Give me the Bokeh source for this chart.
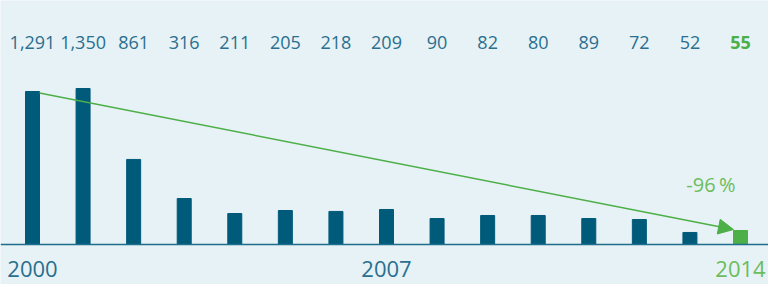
from bokeh.plotting import figure
from bokeh.models import Range1d, ColumnDataSource, Arrow, NormalHead, Span
from bokeh.core.properties import value
from bokeh.embed import file_html
from bokeh.resources import INLINE

# ---- data ----
years = list(range(2000, 2015))
value_labels = ["1,291", "1,350", "861", "316", "211", "205", "218", "209",
                "90", "82", "80", "89", "72", "52", "55"]
# bar heights as drawn in the reference (chart units, max bar = 1,350)
bar_heights = [1324, 1350, 736, 398, 268, 294, 286, 303, 225, 251, 251, 225, 216, 104, 121]
year_labels = ["2000", "2007", "2014"]
change_label = "-96\u2009%"

# ---- styling ----
BG = "#e6f2f5"
BAR = "#005a7a"
GREEN = "#4caf47"
LIGHT_GREEN = "#6cbd5e"
TEXT = "#2a6f8f"
FONT = "Open Sans"

W, H = 768, 284
px_per_slot = 708 / 14          # horizontal pixels per year
x_start = -32 / px_per_slot
x_end = x_start + W / px_per_slot
k = 1350 / 156                  # chart units per pixel
base_px = 40                    # baseline height above bottom edge (px)

p = figure(width=W, height=H, x_range=Range1d(x_start, x_end),
           y_range=Range1d(-base_px * k, (H - base_px) * k),
           output_backend="svg", toolbar_location=None, min_border=0)
p.axis.visible = False
p.grid.visible = False
p.outline_line_color = None
p.background_fill_color = BG
p.border_fill_color = BG

n = len(years)
xs = list(range(n))
colors = [BAR] * (n - 1) + [GREEN]
src = ColumnDataSource(dict(x=xs, top=bar_heights, color=colors,
                            label=value_labels,
                            lcolor=[TEXT] * (n - 1) + [GREEN],
                            lstyle=["normal"] * (n - 1) + ["bold"]))

bar_w = 14 / px_per_slot
p.vbar(x="x", top="top", bottom=0, width=bar_w, color="color", source=src)

# baseline
p.add_layout(Span(location=0, dimension="width", line_color="#1f6e8c", line_width=1.5))

# value labels
p.text(x="x", y=(H - 42 - base_px) * k, text="label", source=src, text_align="center",
       text_baseline="middle", text_font=value(FONT), text_font_size="18px",
       text_color="lcolor", text_font_style="lstyle")

# year labels
yidx = [years.index(int(y)) for y in year_labels]
ysrc = ColumnDataSource(dict(x=yidx, text=year_labels,
                             color=[TEXT, TEXT, LIGHT_GREEN]))
p.text(x="x", y=(8 - base_px) * k, text="text", source=ysrc, text_align="center",
       text_baseline="bottom", text_font=value(FONT), text_font_size="22px",
       text_color="color")

# trend arrow
half = bar_w / 2
p.add_layout(Arrow(end=NormalHead(size=15, fill_color=GREEN, line_color=GREEN),
                   x_start=0 + half, y_start=bar_heights[0] - 1.5 * k,
                   x_end=n - 1 - half, y_end=bar_heights[-1] + 1 * k,
                   line_color=GREEN, line_width=1.5))

p.text(x=[n - 1 - 5 / px_per_slot], y=[(100 - base_px) * k], text=[change_label],
       text_align="right", text_baseline="middle", text_font=value(FONT),
       text_font_size="20px", text_color=LIGHT_GREEN)

open("out.html", "w").write(file_html(p, INLINE))
